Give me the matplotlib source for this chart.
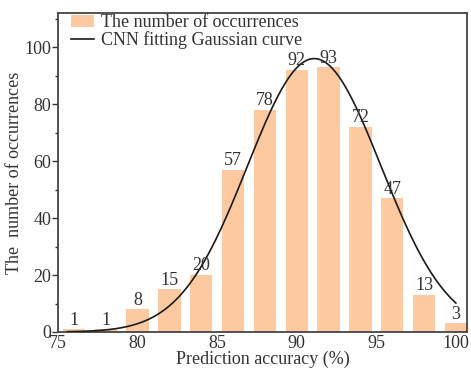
import matplotlib.pyplot as plt
import numpy as np
from matplotlib.ticker import MultipleLocator

# Histogram of prediction accuracy
accuracy = [76, 78, 80, 82, 84, 86, 88, 90, 92, 94, 96, 98, 100]
counts = [1, 1, 8, 15, 20, 57, 78, 92, 93, 72, 47, 13, 3]

# Gaussian fit parameters (amplitude, mean, std)
fit_amp = 96.0
fit_mu = 91.1
fit_sigma = 4.2

plt.rcParams["font.family"] = ["Liberation Serif", "DejaVu Serif"]

fig = plt.figure(figsize=(4.71, 3.73), dpi=100)
ax = fig.add_axes([58 / 471, 41 / 373, 409 / 471, 319 / 373])

bar_color = "#fdc9a0"
bars = ax.bar(accuracy, counts, width=1.4, color=bar_color, label="The number of occurrences", zorder=1)

xs = np.linspace(75.6, 100, 300)
ys = fit_amp * np.exp(-((xs - fit_mu) ** 2) / (2 * fit_sigma ** 2))
curve, = ax.plot(xs, ys, color="#1a1a1a", lw=1.2, label="CNN fitting Gaussian curve", zorder=3)

for x, c in zip(accuracy, counts):
    ax.text(x, c + 0.2, str(c), ha="center", va="bottom", fontsize=13, color="#333333", zorder=4)

ax.set_xlim(75, 100.7)
ax.set_ylim(0, 112)
ax.set_xticks([75, 80, 85, 90, 95, 100])
ax.yaxis.set_major_locator(MultipleLocator(20))
ax.yaxis.set_minor_locator(MultipleLocator(10))
ax.tick_params(axis="y", which="major", direction="out", length=4, width=1, labelsize=13, colors="#333333", pad=1)
ax.tick_params(axis="y", which="minor", direction="out", length=2.5, width=1, colors="#333333")
ax.tick_params(axis="x", direction="in", length=0, labelsize=13, colors="#333333", pad=2)

for s in ax.spines.values():
    s.set_color("#444444")
    s.set_linewidth(1.3)

ax.set_xlabel("Prediction accuracy (%)", fontsize=13, color="#333333", labelpad=-1)
ax.set_ylabel("The  number of occurrences", fontsize=13, color="#333333", labelpad=1)

ax.legend([bars, curve], ["The number of occurrences", "CNN fitting Gaussian curve"],
          loc="upper left", bbox_to_anchor=(0.0, 1.035), frameon=False, fontsize=13,
          handlelength=1.3, handleheight=0.6, handletextpad=0.4,
          labelspacing=0.0, borderpad=0.2, labelcolor="#333333")

fig.savefig("out.png", dpi=100)
